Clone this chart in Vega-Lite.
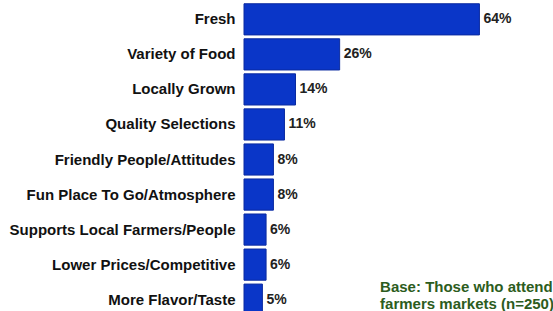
{
  "$schema": "https://vega.github.io/schema/vega-lite/v6.json",
  "autosize": {"type": "none"},
  "width": 309,
  "height": 315,
  "padding": {"left": 244, "top": 2, "right": 0, "bottom": 0},
  "background": "#ffffff",
  "config": {"view": {"stroke": null}, "font": "Liberation Sans"},
  "datasets": {
    "bars": [
      {"reason": "Fresh", "pct": 0.64},
      {"reason": "Variety of Food", "pct": 0.26},
      {"reason": "Locally Grown", "pct": 0.14},
      {"reason": "Quality Selections", "pct": 0.11},
      {"reason": "Friendly People/Attitudes", "pct": 0.08},
      {"reason": "Fun Place To Go/Atmosphere", "pct": 0.08},
      {"reason": "Supports Local Farmers/People", "pct": 0.06},
      {"reason": "Lower Prices/Competitive", "pct": 0.06},
      {"reason": "More Flavor/Taste", "pct": 0.05}
    ],
    "note": [
      {"reason": "More Flavor/Taste", "pct": 0.37, "text": ["Base: Those who attend", "farmers markets (n=250)"]}
    ]
  },
  "layer": [
    {
      "data": {"name": "bars"},
      "mark": {"type": "bar", "color": "#0a36c8", "stroke": "#0a2aa0", "strokeWidth": 1},
      "encoding": {
        "y": {
          "field": "reason", "type": "nominal", "sort": null,
          "scale": {"paddingInner": 0.11, "paddingOuter": 0.05},
          "axis": {"title": null, "ticks": false, "domain": false, "labelPadding": 9, "labelFont": "Liberation Sans", "labelFontSize": 15, "labelFontWeight": "bold", "labelColor": "#111111", "labelLimit": 300}
        },
        "x": {
          "field": "pct", "type": "quantitative",
          "scale": {"domain": [0, 0.84], "nice": false, "zero": true},
          "axis": null
        }
      }
    },
    {
      "data": {"name": "bars"},
      "mark": {"type": "text", "align": "left", "baseline": "middle", "dx": 4, "font": "Liberation Sans", "fontSize": 14, "fontWeight": "bold", "color": "#222222"},
      "encoding": {
        "y": {"field": "reason", "type": "nominal", "sort": null},
        "x": {"field": "pct", "type": "quantitative"},
        "text": {"field": "pct", "type": "quantitative", "format": ".0%"}
      }
    },
    {
      "data": {"name": "note"},
      "mark": {"type": "text", "align": "left", "baseline": "middle", "dy": -12.5, "lineHeight": 17, "font": "Liberation Sans", "fontSize": 15, "fontWeight": "bold", "color": "#2c5c20"},
      "encoding": {
        "y": {"field": "reason", "type": "nominal", "sort": null},
        "x": {"field": "pct", "type": "quantitative"},
        "text": {"field": "text"}
      }
    }
  ]
}
